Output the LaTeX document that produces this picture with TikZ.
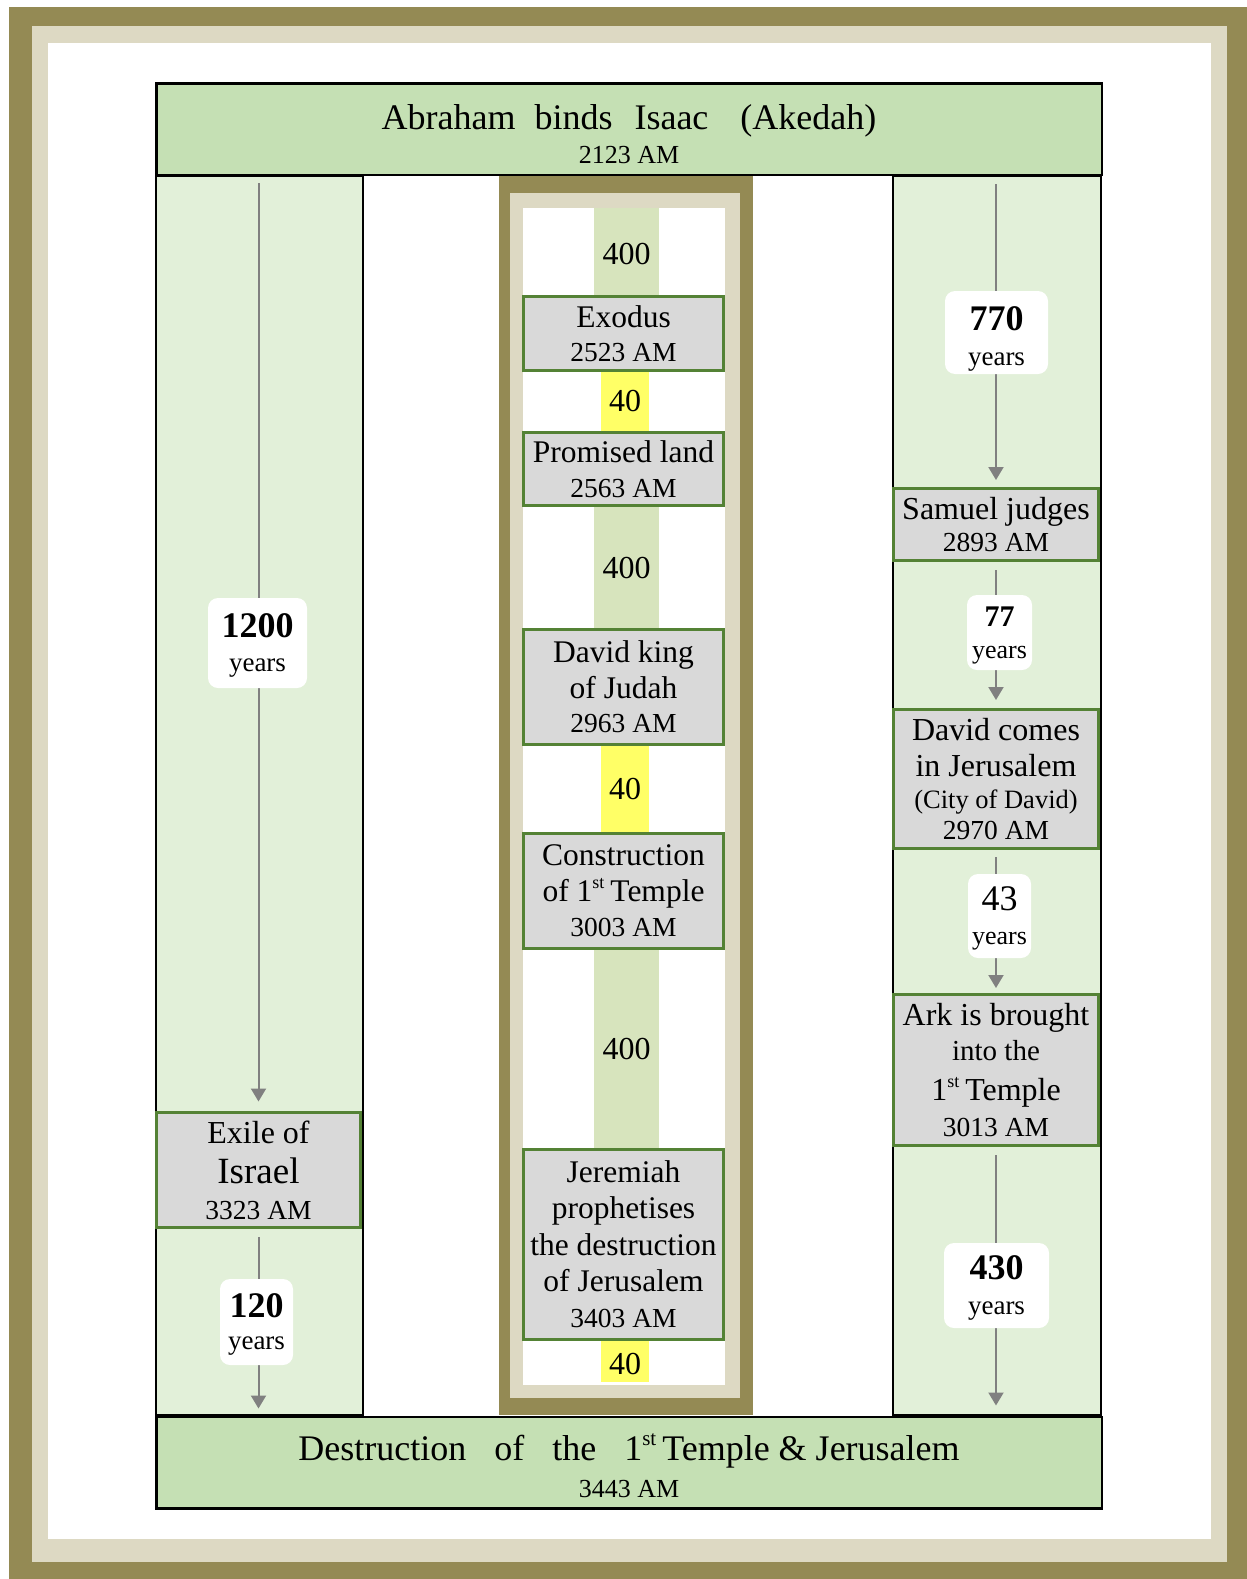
\documentclass[tikz,border=0pt]{standalone}
\usepackage{fontspec}
\setmainfont{Liberation Serif}
\usetikzlibrary{arrows.meta}
\definecolor{framolive}{HTML}{948A54}
\definecolor{frambeige}{HTML}{DDD9C3}
\definecolor{hdrgreen}{HTML}{C5E0B4}
\definecolor{colgreen}{HTML}{E2F0D9}
\definecolor{bandgreen}{HTML}{D7E4BD}
\definecolor{bandyellow}{HTML}{FFFF66}
\definecolor{boxgray}{HTML}{D9D9D9}
\definecolor{boxgreen}{HTML}{548235}
\definecolor{arrowgray}{HTML}{808080}
\newcommand{\fs}[2]{\fontsize{#1}{#2}\selectfont}
\newcommand{\yrAM}[1]{{\fs{27.5}{30}#1 AM}}
\newcommand{\stsup}[2]{\raisebox{#2}{\fs{#1}{#1}st}}
\begin{document}
\begin{tikzpicture}[x=1pt,y=-1pt,
  evbox/.style={draw=boxgreen, line width=3pt, fill=boxgray, inner sep=0pt, align=center},
  hdrbox/.style={draw=black, line width=2.5pt, fill=hdrgreen, inner sep=0pt, align=center,
    minimum width=945.5pt, minimum height=91.5pt},
  lbl/.style={fill=white, rounded corners=10pt, inner sep=0pt, align=center, text depth=0pt},
  arr/.style={draw=arrowgray, line width=2pt, -{Triangle[width=15pt,length=13pt]}},
  numtxt/.style={font=\fs{32}{36}, inner sep=0pt},
  colbox/.style={draw=black, line width=2pt, fill=colgreen}
]
\useasboundingbox (0,0) rectangle (1247,1579);
\fill[white] (0,0) rectangle (1247,1579);
% outer frame
\fill[framolive] (9,7) rectangle (1247,1579);
\fill[frambeige] (32,26) rectangle (1227,1562);
\fill[white] (48,43) rectangle (1211,1539);

% side columns
\draw[colbox] (156,176) rectangle (362.5,1415);
\draw[colbox] (893,176) rectangle (1101,1415);

% central framed column
\fill[framolive] (499,176) rectangle (753,1415);
\fill[frambeige] (510,193) rectangle (740,1398);
\fill[white] (523,208) rectangle (725,1385);

% bands
\fill[bandgreen] (594,208) rectangle (659,295);
\fill[bandgreen] (594,507) rectangle (659,628);
\fill[bandgreen] (594,950) rectangle (659,1148);
\fill[bandyellow] (601,372) rectangle (649,431);
\fill[bandyellow] (601,746) rectangle (649,832);
\fill[bandyellow] (601,1341) rectangle (649,1382);

\node[numtxt] (g1) at (626.5,254.5) {400};
\node[numtxt] (g2) at (626.5,568) {400};
\node[numtxt] (g3) at (626.5,1049) {400};
\node[numtxt] (y1) at (625,401) {40};
\node[numtxt] (y2) at (625,789) {40};
\node[numtxt] (y3) at (625,1364) {40};

% headers
\node[hdrbox, font=\fs{36}{34}] (top) at (629,129)
  {\rule{0pt}{35pt}Abraham\hspace{19pt}binds\hspace{22pt}Isaac\hspace{32pt}(Akedah)\\{\fs{26}{34}2123 AM}};
\node[hdrbox, font=\fs{36}{37}] (bot) at (629,1462.5)
  {\rule{0pt}{34pt}Destruction\hspace{28pt}of\hspace{28pt}the\hspace{28pt}1\stsup{21}{15pt}\hspace{6pt}Temple \& Jerusalem\\{\fs{26}{37}3443 AM}};

% central events
\node[evbox, minimum width=200pt, minimum height=74pt, font=\fs{31.5}{34}] (exodus) at (623.5,333.5)
  {Exodus\\\yrAM{2523}};
\node[evbox, minimum width=200pt, minimum height=73pt, font=\fs{31.5}{35}] (promised) at (623.5,469)
  {Promised land\\\yrAM{2563}};
\node[evbox, minimum width=200pt, minimum height=115pt, font=\fs{31.5}{35}] (davidking) at (623.5,687)
  {David king\\[1pt]of Judah\\[-1pt]\yrAM{2963}};
\node[evbox, minimum width=200pt, minimum height=115pt, font=\fs{31.5}{35}] (temple) at (623.5,891)
  {Construction\\[1pt]of 1\stsup{18}{13pt}\hspace{6pt}Temple\\\yrAM{3003}};
\node[evbox, minimum width=200pt, minimum height=190pt, font=\fs{31.5}{36}] (jeremiah) at (623.5,1244.5)
  {Jeremiah\\prophetises\\[1pt]the destruction\\of Jerusalem\\\yrAM{3403}};

% right column events
\node[evbox, minimum width=205pt, minimum height=72pt, font=\fs{32}{32}] (samuel) at (996,524.5)
  {Samuel judges\\\yrAM{2893}};
\node[evbox, minimum width=205pt, minimum height=139pt, font=\fs{32}{36}] (davidcomes) at (996,779)
  {David comes\\in Jerusalem\\[-4pt]{\fs{26.5}{30}(City of David)}\\[-5pt]\yrAM{2970}};
\node[evbox, minimum width=205pt, minimum height=151pt, font=\fs{32}{35}] (ark) at (996,1070)
  {Ark is brought\\[0pt]{\fs{29}{30}into the}\\[5pt]1\stsup{18}{13pt}\hspace{6pt}Temple\\[1pt]\yrAM{3013}};

% left column event
\node[evbox, minimum width=204pt, minimum height=115pt, font=\fs{32}{36}] (exile) at (258.5,1170)
  {Exile of\\[4pt]{\fs{37}{40}Israel}\\\yrAM{3323}};

% arrows
\draw[arr, shorten <=7pt, shorten >=9.5pt] (exile.north |- top.south) -- (exile.north);
\draw[arr, shorten <=8pt, shorten >=7pt] (exile.south) -- (exile.south |- bot.north);
\draw[arr, shorten <=8pt, shorten >=7pt] (samuel.north |- top.south) -- (samuel.north);
\draw[arr, shorten <=8pt, shorten >=8pt] (samuel.south) -- (davidcomes.north);
\draw[arr, shorten <=7pt, shorten >=5pt] (davidcomes.south) -- (ark.north);
\draw[arr, shorten <=8pt, shorten >=10pt] (ark.south) -- (ark.south |- bot.north);

% labels
\node[lbl, minimum width=99pt, minimum height=90pt, font=\fs{27}{34}] (l1200) at (257.5,643)
  {{\fs{36}{34}\bfseries 1200}\\years};
\node[lbl, minimum width=73pt, minimum height=86pt, font=\fs{27}{32}] (l120) at (256.5,1322)
  {{\fs{36}{32}\bfseries 120}\\years};
\node[lbl, minimum width=103pt, minimum height=83pt, font=\fs{27}{35}] (l770) at (996.5,332.5)
  {\rule{0pt}{30pt}{\fs{36}{35}\bfseries 770}\\years};
\node[lbl, minimum width=65pt, minimum height=75pt, font=\fs{26}{32}] (l77) at (999.5,632.5)
  {{\fs{30}{32}\bfseries 77}\\years};
\node[lbl, minimum width=63pt, minimum height=84pt, font=\fs{26}{34}] (l43) at (999.5,916)
  {{\fs{36}{34}43}\\years};
\node[lbl, minimum width=105pt, minimum height=85pt, font=\fs{27}{35}] (l430) at (996.5,1285.5)
  {{\fs{36}{35}\bfseries 430}\\years};
\end{tikzpicture}
\end{document}
